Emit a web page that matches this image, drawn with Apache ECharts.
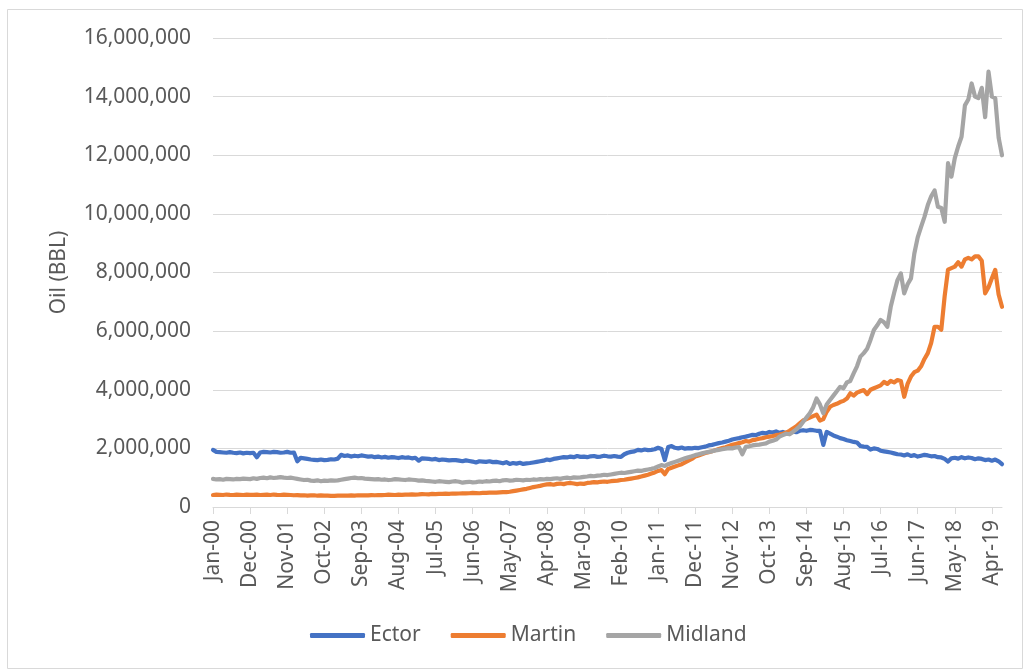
<!DOCTYPE html>
<html>
<head>
<meta charset="utf-8">
<script src="https://cdn.jsdelivr.net/npm/echarts@6/dist/echarts.min.js"></script>
<style>
html,body{margin:0;padding:0;background:#fff;}
#c{width:1026px;height:671px;}
</style>
</head>
<body>
<div id="c"></div>
<script>
// Monthly oil production (BBL), Jan-2000 .. Jul-2019
const seriesNames = ['Ector', 'Martin', 'Midland'];
const yTicks = [0, 2000000, 4000000, 6000000, 8000000, 10000000, 12000000, 14000000, 16000000];
const monthAbbr = ['Jan','Feb','Mar','Apr','May','Jun','Jul','Aug','Sep','Oct','Nov','Dec'];
const startYear = 2000, monthCount = 235;

const ector = [
1950000,1880000,1870000,1860000,1850000,1870000,1850000,1840000,1860000,1830000,1850000,1840000,
1850000,1700000,1860000,1880000,1870000,1860000,1880000,1870000,1850000,1860000,1880000,1850000,
1860000,1560000,1680000,1660000,1640000,1620000,1610000,1600000,1620000,1600000,1610000,1630000,
1620000,1650000,1780000,1740000,1760000,1720000,1750000,1730000,1760000,1740000,1720000,1730000,
1700000,1720000,1690000,1710000,1680000,1700000,1690000,1670000,1700000,1680000,1690000,1660000,
1680000,1580000,1660000,1650000,1640000,1620000,1640000,1600000,1620000,1610000,1590000,1600000,
1600000,1580000,1560000,1590000,1570000,1550000,1520000,1560000,1550000,1540000,1560000,1530000,
1540000,1520000,1490000,1530000,1470000,1500000,1480000,1510000,1470000,1490000,1500000,1520000,
1540000,1560000,1580000,1620000,1600000,1640000,1660000,1680000,1700000,1690000,1720000,1700000,
1740000,1710000,1720000,1700000,1730000,1740000,1710000,1720000,1750000,1730000,1720000,1740000,
1720000,1710000,1800000,1850000,1880000,1900000,1950000,1930000,1960000,1940000,1950000,1970000,
2020000,1980000,1600000,2050000,2080000,2020000,2000000,2030000,1990000,2010000,2000000,2020000,
2010000,2040000,2060000,2100000,2120000,2150000,2180000,2200000,2230000,2260000,2300000,2330000,
2350000,2380000,2400000,2430000,2460000,2450000,2500000,2530000,2510000,2560000,2540000,2580000,
2530000,2560000,2520000,2570000,2580000,2550000,2600000,2620000,2600000,2630000,2620000,2600000,
2600000,2120000,2560000,2500000,2440000,2400000,2350000,2320000,2280000,2250000,2220000,2200000,
2080000,2060000,2050000,1960000,2000000,1980000,1920000,1900000,1880000,1860000,1830000,1800000,
1790000,1760000,1800000,1740000,1770000,1720000,1750000,1780000,1760000,1730000,1740000,1700000,
1690000,1640000,1550000,1660000,1680000,1650000,1700000,1660000,1690000,1670000,1630000,1660000,
1640000,1600000,1620000,1580000,1620000,1560000,1460000
];

const martin = [
410000,420000,415000,410000,425000,415000,410000,420000,415000,410000,420000,415000,
415000,420000,410000,415000,420000,410000,425000,415000,410000,420000,415000,410000,
400000,405000,395000,400000,390000,395000,400000,385000,395000,390000,385000,380000,
380000,385000,390000,385000,390000,395000,390000,400000,395000,400000,395000,405000,
400000,410000,405000,410000,420000,415000,410000,420000,415000,425000,420000,430000,
425000,430000,440000,435000,430000,445000,440000,450000,445000,455000,450000,460000,
455000,460000,470000,465000,470000,480000,475000,470000,480000,485000,490000,495000,
490000,500000,510000,505000,520000,540000,560000,580000,600000,620000,650000,680000,
700000,720000,750000,770000,780000,760000,790000,800000,780000,810000,820000,800000,
780000,800000,790000,820000,830000,850000,840000,860000,870000,860000,880000,890000,
900000,920000,930000,950000,970000,990000,1010000,1040000,1070000,1100000,1140000,1180000,
1230000,1260000,1120000,1300000,1340000,1380000,1420000,1460000,1520000,1580000,1640000,1720000,
1760000,1800000,1840000,1870000,1900000,1940000,1980000,2010000,2040000,2080000,2120000,2150000,
2180000,2210000,2250000,2230000,2280000,2300000,2330000,2350000,2380000,2400000,2420000,2450000,
2470000,2500000,2540000,2600000,2680000,2750000,2850000,2950000,3000000,3050000,3100000,3150000,
2950000,3000000,3250000,3420000,3480000,3520000,3580000,3620000,3700000,3880000,3800000,3900000,
3950000,3990000,3850000,4000000,4050000,4100000,4150000,4270000,4200000,4300000,4250000,4330000,
4300000,3760000,4200000,4450000,4600000,4650000,4800000,5050000,5250000,5600000,6150000,6150000,
6050000,7200000,8100000,8150000,8200000,8350000,8200000,8450000,8500000,8450000,8550000,8550000,
8400000,7290000,7500000,7800000,8090000,7250000,6830000
];

const midland = [
960000,940000,950000,930000,960000,950000,940000,960000,950000,970000,960000,950000,
980000,960000,990000,1000000,980000,1010000,990000,1000000,1020000,1000000,990000,1000000,
980000,960000,940000,920000,930000,900000,890000,910000,880000,900000,890000,910000,
900000,910000,930000,950000,970000,990000,1000000,980000,990000,970000,960000,950000,
940000,950000,930000,940000,920000,930000,950000,940000,930000,920000,940000,930000,
920000,900000,910000,890000,880000,870000,860000,880000,870000,860000,850000,870000,
880000,860000,830000,850000,860000,840000,850000,870000,860000,880000,870000,890000,
900000,880000,910000,920000,900000,910000,930000,920000,910000,930000,920000,940000,
930000,950000,940000,960000,950000,970000,980000,960000,990000,1000000,980000,1010000,
1000000,1010000,1030000,1040000,1060000,1050000,1070000,1080000,1100000,1090000,1110000,1130000,
1150000,1170000,1160000,1180000,1200000,1220000,1240000,1230000,1260000,1280000,1300000,1330000,
1380000,1430000,1400000,1460000,1500000,1540000,1580000,1620000,1660000,1700000,1730000,1770000,
1800000,1830000,1860000,1880000,1900000,1930000,1950000,1970000,1990000,2010000,2000000,2030000,
2040000,1800000,2050000,2070000,2100000,2120000,2130000,2150000,2170000,2230000,2260000,2300000,
2400000,2450000,2500000,2480000,2560000,2650000,2750000,2900000,3050000,3200000,3400000,3700000,
3500000,3200000,3500000,3650000,3800000,3950000,4100000,4050000,4250000,4300000,4560000,4800000,
5130000,5250000,5400000,5700000,6040000,6200000,6380000,6300000,6150000,6830000,7300000,7740000,
7970000,7290000,7600000,7800000,8650000,9200000,9560000,9900000,10300000,10600000,10800000,10240000,
10200000,9730000,11730000,11270000,11900000,12300000,12630000,13700000,13900000,14450000,14000000,13950000,
14300000,13300000,14850000,14000000,13950000,12600000,12000000
];

const seriesColors = ['#4472C4', '#ED7D31', '#A5A5A5'];

const categories = [];
for (let i = 0; i < monthCount; i++) {
  const y = startYear + Math.floor(i / 12);
  categories.push(monthAbbr[i % 12] + '-' + String(y % 100).padStart(2, '0'));
}

const FONT = 'Noto Sans';
const TXT = '#595959';
const chart = echarts.init(document.getElementById('c'), null, {renderer: 'canvas'});
chart.setOption({
  animation: false,
  backgroundColor: '#fff',
  graphic: [{
    type: 'rect', silent: true, z: -1,
    shape: {x: 7.5, y: 9.5, width: 1015, height: 659},
    style: {fill: 'none', stroke: '#d9d9d9', lineWidth: 1}
  }],
  grid: {left: 213, right: 24, top: 38, bottom: 164, containLabel: false},
  legend: {
    data: seriesNames,
    top: 620, left: 305,
    icon: 'roundRect', itemWidth: 55, itemHeight: 5, itemGap: 30,
    textStyle: {fontFamily: FONT, fontSize: 21, color: TXT}
  },
  xAxis: {
    type: 'category', data: categories, boundaryGap: false,
    axisLine: {lineStyle: {color: '#d9d9d9', width: 1}},
    axisTick: {show: true, interval: 10, length: 7, lineStyle: {color: '#d9d9d9'}},
    axisLabel: {interval: 10, rotate: 90, margin: 13, fontFamily: FONT, fontSize: 21, color: TXT},
    splitLine: {show: false}
  },
  yAxis: {
    type: 'value', min: yTicks[0], max: yTicks[yTicks.length - 1], interval: 2000000,
    name: 'Oil (BBL)', nameLocation: 'middle', nameGap: 143, nameRotate: 90,
    nameTextStyle: {fontFamily: FONT, fontSize: 21, color: TXT},
    axisLine: {show: false}, axisTick: {show: false},
    axisLabel: {margin: 22, fontFamily: FONT, fontSize: 21, color: TXT,
      formatter: v => v.toLocaleString('en-US')},
    splitLine: {lineStyle: {color: '#d9d9d9', width: 1}}
  },
  series: [ector, martin, midland].map((d, k) => ({
    name: seriesNames[k], type: 'line', data: d, showSymbol: false, symbol: 'none',
    itemStyle: {color: seriesColors[k]},
    lineStyle: {color: seriesColors[k], width: 4.2, cap: 'round', join: 'round'},
    z: 2 + k
  }))
});
</script>
</body>
</html>
